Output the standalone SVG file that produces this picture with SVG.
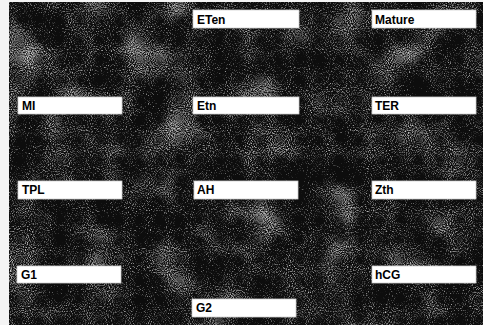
<svg xmlns="http://www.w3.org/2000/svg" width="483" height="325" viewBox="0 0 483 325">
<defs>
<filter id="noise" x="0" y="0" width="100%" height="100%" filterUnits="objectBoundingBox">
<feTurbulence type="fractalNoise" baseFrequency="0.95" numOctaves="1" seed="7" result="fine"/>
<feTurbulence type="fractalNoise" baseFrequency="0.025" numOctaves="2" seed="3" result="coarse"/>
<feComposite in="fine" in2="coarse" operator="arithmetic" k1="0" k2="1" k3="0.5" k4="-0.14" result="mix"/>
<feColorMatrix in="mix" type="matrix" values="0 0 0 0 0.62  0 0 0 0 0.62  0 0 0 0 0.62  3 0 0 0 -1.15"/>
</filter>
<style>
.box{fill:#ffffff;stroke:#cfcfcf;stroke-width:0.8}
.lbl{font-family:"Liberation Sans",Arial,sans-serif;font-size:12px;font-weight:bold;fill:#000}
</style>
</defs>
<rect x="0" y="0" width="483" height="325" fill="#f4f4f4"/>
<rect x="9" y="2" width="474" height="323" fill="#0d0d0d"/>
<rect x="9" y="2" width="474" height="323" fill="#000" filter="url(#noise)"/>
<g id="node-ETen"><rect class="box" x="193" y="10" width="106" height="18"/><text class="lbl" x="197" y="24">ETen</text></g>
<g id="node-Mature"><rect class="box" x="372" y="10" width="104" height="18"/><text class="lbl" x="375" y="24">Mature</text></g>
<g id="node-MI"><rect class="box" x="18" y="97" width="104" height="17"/><text class="lbl" x="22" y="110">MI</text></g>
<g id="node-Etn"><rect class="box" x="193" y="97" width="106" height="17"/><text class="lbl" x="197" y="110">Etn</text></g>
<g id="node-TER"><rect class="box" x="372" y="97" width="104" height="17"/><text class="lbl" x="375" y="110">TER</text></g>
<g id="node-TPL"><rect class="box" x="18" y="181" width="104" height="18"/><text class="lbl" x="22" y="194">TPL</text></g>
<g id="node-AH"><rect class="box" x="194" y="181" width="104" height="18"/><text class="lbl" x="197" y="194">AH</text></g>
<g id="node-Zth"><rect class="box" x="372" y="181" width="104" height="18"/><text class="lbl" x="375" y="194">Zth</text></g>
<g id="node-G1"><rect class="box" x="17" y="266" width="104" height="17"/><text class="lbl" x="21" y="279">G1</text></g>
<g id="node-hCG"><rect class="box" x="372" y="266" width="104" height="17"/><text class="lbl" x="375" y="279">hCG</text></g>
<g id="node-G2"><rect class="box" x="192" y="299" width="104" height="18"/><text class="lbl" x="196" y="312">G2</text></g>
<g id="connectors"></g>
</svg>
